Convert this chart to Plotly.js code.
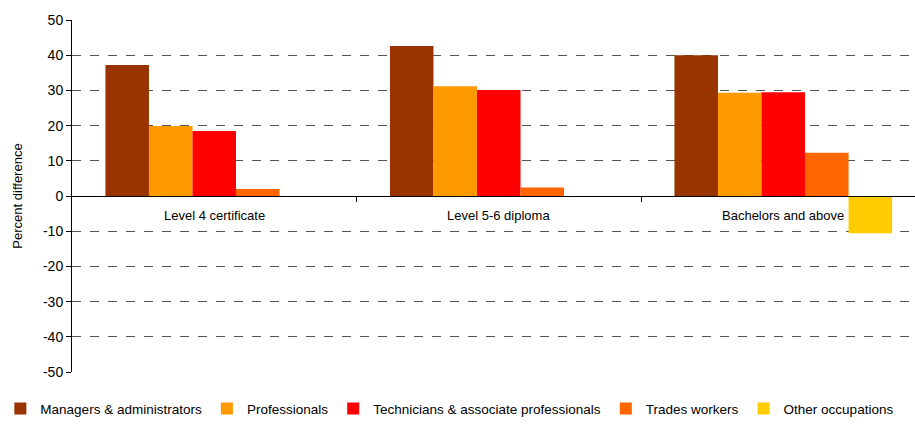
<!DOCTYPE html>
<html><head><meta charset="utf-8">
<script src="https://cdn.plot.ly/plotly-3.0.1.min.js"></script>
<style>html,body{margin:0;padding:0;background:#fff}#c{width:915px;height:425px}</style>
</head><body><div id="c"></div>
<script>
var categories = ["Level 4 certificate", "Level 5-6 diploma", "Bachelors and above"];
var seriesNames = ["Managers & administrators", "Professionals", "Technicians & associate professionals", "Trades workers", "Other occupations"];
var managers = [37.2, 42.6, 40.0];
var professionals = [19.9, 31.2, 29.3];
var technicians = [18.5, 30.1, 29.5];
var trades = [2.0, 2.4, 12.3];
var other = [-0.3, -0.3, -10.6];
var yTicks = [-50, -40, -30, -20, -10, 0, 10, 20, 30, 40, 50];
var colors = ["#993300", "#FF9900", "#FF0000", "#FF6600", "#FFCC00"];

var values = [managers, professionals, technicians, trades, other];
var xi = categories.map(function(_, i){ return i; });
var traces = values.map(function(v, k){
  return {type:'bar', x:xi, y:v, name:seriesNames[k], marker:{color:colors[k], line:{width:0}}};
});
var annotations = categories.map(function(c, i){
  return {x:i, y:0, xref:'x', yref:'y', text:c, showarrow:false, yanchor:'top', yshift:-10,
          font:{family:'Liberation Sans, Arial, sans-serif', size:13, color:'#000'}};
});
var layout = {
  width:915, height:425,
  margin:{l:72, r:0, t:20, b:53},
  paper_bgcolor:'#fff', plot_bgcolor:'#fff',
  barmode:'group', bargap:0.235, bargroupgap:0,
  font:{family:'Liberation Sans, Arial, sans-serif', size:13, color:'#000'},
  xaxis:{range:[-0.5, 2.463], anchor:'free', position:0.5, showline:true, linecolor:'#000', linewidth:1,
         ticks:'outside', tickvals:[0.5, 1.5], ticklen:5, tickcolor:'#000', showticklabels:false,
         showgrid:false, zeroline:false},
  yaxis:{range:[-50, 50], tickvals:yTicks, ticktext:yTicks.map(String), ticks:'outside', ticklen:5, tickcolor:'#000',
         showline:true, linecolor:'#000', linewidth:1, showgrid:true, gridcolor:'#555', griddash:'dash',
         gridwidth:1, zeroline:true, zerolinecolor:'#000', zerolinewidth:1,
         tickfont:{size:14}, title:{text:'Percent difference', font:{size:13}, standoff:17}},
  legend:{orientation:'h', x:-0.085, xanchor:'left', y:-0.06, yanchor:'top',
          font:{size:13.5}, itemwidth:30, tracegroupgap:0, itemclick:false},
  annotations:annotations,
  showlegend:true
};
Plotly.newPlot('c', traces, layout, {displayModeBar:false, staticPlot:true});
</script></body></html>
